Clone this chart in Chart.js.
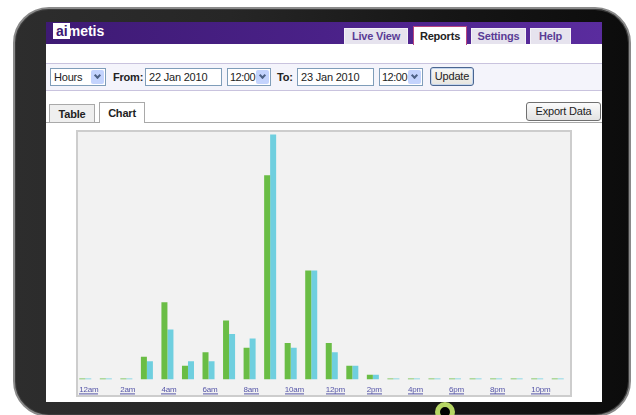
<!DOCTYPE html>
<html>
<head>
<meta charset="utf-8">
<script src="https://cdn.jsdelivr.net/npm/chart.js@4"></script>
<style>
html, body { margin: 0; padding: 0; background: #fff; width: 636px; height: 415px; overflow: hidden;
  font-family: "Liberation Sans", Arial, sans-serif; font-size: 11px; color: #222; letter-spacing: -0.2px; }
div, canvas { position: absolute; box-sizing: border-box; }
#tablet { left: 13px; top: 7px; width: 618px; height: 410px; border-radius: 36px;
  background: linear-gradient(90deg, #2d2d2d 0%, #262626 35%, #161616 70%, #0c0c0c 100%);
  border: 2px solid #8a8a8a; box-shadow: inset 0 0 0 1px #3c3c3c; }
#screen { left: 46px; top: 22px; width: 556px; height: 380px; background: #fff; }
#header { left: 46px; top: 22px; width: 556px; height: 22px;
  background: linear-gradient(90deg, #3e1a74 0%, #4a2188 50%, #5a2c9e 100%); }
#logoBox { left: 53px; top: 23px; width: 17px; height: 16px; background: #fff; }
#logo { left: 56px; top: 22px; font-weight: bold; font-size: 14px; line-height: 18px; color: #fff; letter-spacing: 0; }
#logo span { color: #3e1a74; }
.tab { top: 28px; height: 16px; background: #e6e3ee; border: 1px solid #f4f2f8; border-bottom: none;
  color: #5a3c96; font-weight: bold; text-align: center; line-height: 15px; }
.tab.on { top: 26px; height: 19px; background: #fff; border: 1px solid #b8457f; border-bottom: none;
  color: #222; line-height: 19px; }
#toolbar { left: 46px; top: 63px; width: 556px; height: 28px; background: #f4f4fb;
  border-top: 1px solid #c9c3de; border-bottom: 1px solid #c9c3de; }
.field { top: 68px; height: 18px; background: #fff; border: 1px solid #7f9db9; padding-left: 3px; line-height: 16px; }
.arrow { right: 1px; top: 1px; width: 13px; height: 14px; background: #c3d3fd; border-radius: 2px; }
.arrow div { left: 4px; top: 3px; width: 5px; height: 5px; border-right: 2px solid #4d6185;
  border-bottom: 2px solid #4d6185; transform: rotate(45deg); }
.sel { letter-spacing: -0.5px; padding-left: 2px; }
.lbl { top: 70px; font-weight: bold; line-height: 14px; }
#update { left: 430px; top: 67px; width: 44px; height: 19px; border: 1px solid #4a6690; border-radius: 3px;
  background: linear-gradient(#f8f8f6, #e6e5df); box-shadow: inset 0 0 0 1px #c6d6ee;
  text-align: center; line-height: 16px; }
.ptab { height: 18px; border: 1px solid #a9a9a9; border-bottom: none; font-weight: bold; text-align: center; }
#tabLine { left: 46px; top: 122px; width: 556px; height: 1px; background: #a9a9a9; }
#export { left: 526px; top: 102px; width: 75px; height: 19px; border: 1px solid #707070; border-radius: 3px;
  background: linear-gradient(#fbfbfb, #e2e2e2); text-align: center; line-height: 17px; }
#box { left: 76px; top: 130px; width: 496px; height: 267px; border: 2px solid #cdcdcd; background: #f2f2f2; }
#chart { left: 70px; top: 125px; }
#home { left: 435px; top: 402px; width: 20px; height: 20px; border-radius: 50%; border: 5px solid #b6d664; background: #000; }
</style>
</head>
<body>
<div id="tablet"></div>
<div id="screen"></div>
<div id="header"></div>
<div id="logoBox"></div>
<div id="logo"><span>ai</span>metis</div>
<div class="tab" style="left:344px;width:64px;">Live View</div>
<div class="tab on" style="left:413px;width:54px;">Reports</div>
<div class="tab" style="left:471px;width:55px;">Settings</div>
<div class="tab" style="left:530px;width:41px;">Help</div>

<div id="toolbar"></div>
<div class="field" style="left:50px;width:56px;">Hours<div class="arrow"><div></div></div></div>
<div class="lbl" style="left:113px;">From:</div>
<div class="field" style="left:145px;width:77px;">22 Jan 2010</div>
<div class="field sel" style="left:227px;width:44px;">12:00<div class="arrow"><div></div></div></div>
<div class="lbl" style="left:277px;">To:</div>
<div class="field" style="left:297px;width:77px;">23 Jan 2010</div>
<div class="field sel" style="left:379px;width:44px;">12:00<div class="arrow"><div></div></div></div>
<div id="update">Update</div>

<div id="tabLine"></div>
<div class="ptab" style="left:49px;top:104px;width:46px;background:#efefef;line-height:18px;">Table</div>
<div class="ptab" style="left:99px;top:102px;width:46px;height:21px;background:#fff;line-height:20px;">Chart</div>
<div id="export">Export Data</div>

<div id="box"></div>
<canvas id="chart" width="505" height="277"></canvas>
<div id="home"></div>

<script>
// Datos del gráfico: eventos por hora
const hours = ['12am', '1am', '2am', '3am', '4am', '5am', '6am', '7am', '8am', '9am', '10am', '11am',
               '12pm', '1pm', '2pm', '3pm', '4pm', '5pm', '6pm', '7pm', '8pm', '9pm', '10pm', '11pm'];
const tickLabels = ['12am', '2am', '4am', '6am', '8am', '10am', '12pm', '2pm', '4pm', '6pm', '8pm', '10pm'];
const greenValues = [0, 0, 0, 5, 17, 3, 6, 13, 7, 45, 8, 24, 8, 3, 1, 0, 0, 0, 0, 0, 0, 0, 0, 0];
const blueValues  = [0, 0, 0, 4, 11, 4, 4, 10, 9, 54, 7, 24, 6, 3, 1, 0, 0, 0, 0, 0, 0, 0, 0, 0];

const linkColor = '#5656a8';
const labelShift = -6;

// subrayado de las etiquetas (como enlaces)
const underline = {
    id: 'underline',
    afterDraw(chart) {
        const scale = chart.scales.x;
        const c = chart.ctx;
        c.save();
        c.font = '8px "Liberation Sans", Arial';
        c.fillStyle = linkColor;
        const y = chart.chartArea.bottom + 14;
        scale.ticks.forEach((t, i) => {
            const txt = i % 2 === 0 ? tickLabels[i / 2] : '';
            if (!txt) return;
            const x = scale.getPixelForTick(i) + labelShift;
            c.fillRect(Math.round(x), y, Math.round(c.measureText(txt).width), 1);
        });
        c.restore();
    }
};

const ctx = document.getElementById('chart').getContext('2d');
const myChart = new Chart(ctx, {
    type: 'bar',
    data: {
        labels: hours,
        datasets: [{
            label: 'Serie 1',
            data: greenValues,
            backgroundColor: '#6abd45',
            minBarLength: 1
        }, {
            label: 'Serie 2',
            data: blueValues,
            backgroundColor: '#6fcfdf',
            minBarLength: 1
        }]
    },
    options: {
        responsive: false,
        animation: false,
        devicePixelRatio: 1,
        layout: { padding: { left: 5, right: 7, top: 5, bottom: 1 } },
        datasets: { bar: { barPercentage: 1, categoryPercentage: 0.585 } },
        plugins: { legend: { display: false }, tooltip: { enabled: false } },
        scales: {
            x: {
                grid: { display: false, drawTicks: false },
                border: { display: false },
                ticks: {
                    autoSkip: false,
                    maxRotation: 0,
                    align: 'start',
                    labelOffset: labelShift,
                    padding: 6,
                    color: linkColor,
                    font: { size: 8, family: '"Liberation Sans", Arial' },
                    callback: (v, i) => i % 2 === 0 ? tickLabels[i / 2] : ''
                }
            },
            y: {
                display: false,
                min: 0,
                max: 55
            }
        }
    },
    plugins: [underline]
});
</script>
</body>
</html>
